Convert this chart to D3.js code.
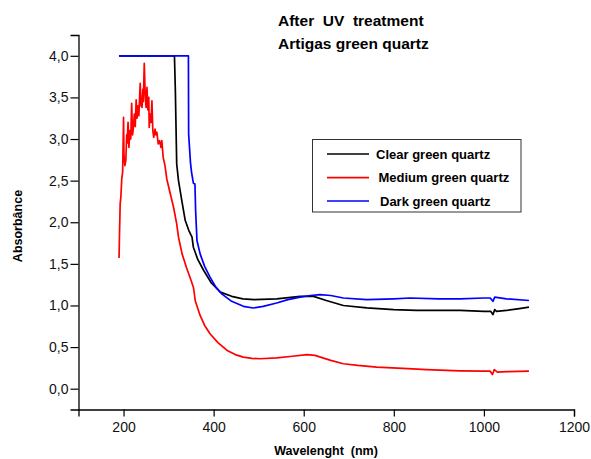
<!DOCTYPE html>
<html><head><meta charset="utf-8">
<script src="https://cdn.jsdelivr.net/npm/d3@7/dist/d3.min.js"></script>
<style>
body{margin:0;background:#fff;}
svg{display:block;font-family:"Liberation Sans",Arial,sans-serif;}
</style></head>
<body>
<svg id="chart" width="591" height="459"></svg>
<script>
// ---- data ----
const titleLines = ["After  UV  treatment", "Artigas green quartz"];
const xLabel = "Wavelenght  (nm)";
const yLabel = "Absorbânce";
const seriesNames = ["Clear green quartz", "Medium green quartz", "Dark green quartz"];
const seriesColors = ["#000000", "#ff0000", "#0000ff"];
const xTicks = [200, 400, 600, 800, 1000, 1200];
const xMinorTicks = [100, 300, 500, 700, 900, 1100];
const yTicks = [0, 0.5, 1, 1.5, 2, 2.5, 3, 3.5, 4];
const yMinorTicks = [-0.25, 0.25, 0.75, 1.25, 1.75, 2.25, 2.75, 3.25, 3.75, 4.25];

const clearWl  = [190, 250, 313, 315, 318, 322, 330, 337, 345, 352, 355, 365, 378, 395, 415, 440, 465, 490, 540, 592, 622, 650, 688, 740, 800, 850, 903, 947, 1000, 1015, 1020, 1024, 1028, 1050, 1075, 1100];
const clearAbs = [4.0, 4.0, 4.0, 3.59, 2.70, 2.50, 2.24, 2.02, 1.90, 1.82, 1.70, 1.55, 1.42, 1.27, 1.16, 1.11, 1.08, 1.07, 1.08, 1.11, 1.11, 1.06, 1.00, 0.97, 0.95, 0.94, 0.94, 0.94, 0.93, 0.93, 0.89, 0.95, 0.93, 0.94, 0.96, 0.98];

const mediumWl  = [190, 191, 192.5, 194, 196, 198, 200, 201, 203, 205, 207, 208, 210, 212, 214, 216, 218, 220, 222, 224, 226, 228, 230, 232, 234, 236, 237, 239, 241, 243, 244, 246, 248, 250, 252, 254, 256, 257, 259, 261, 263, 265, 267, 270, 272, 274, 277, 280, 283, 285, 288, 292, 296, 303, 311, 318, 322, 330, 340, 350, 355, 357, 359, 365, 370, 380, 392, 410, 430, 448, 466, 485, 503, 540, 575, 607, 625, 637, 660, 688, 720, 762, 820, 873, 947, 1000, 1014, 1019, 1023, 1030, 1050, 1100];
const mediumAbs = [1.57, 1.85, 2.22, 2.30, 2.52, 2.60, 3.26, 2.80, 2.68, 2.74, 3.05, 2.95, 3.20, 2.90, 3.10, 3.00, 3.43, 3.05, 3.14, 3.30, 3.15, 3.47, 3.25, 3.40, 3.28, 3.55, 3.67, 3.40, 3.38, 3.60, 3.45, 3.91, 3.55, 3.38, 3.62, 3.35, 3.50, 3.14, 3.30, 3.20, 3.46, 3.10, 3.02, 3.12, 3.05, 3.08, 2.94, 2.98, 2.90, 2.98, 2.78, 2.68, 2.52, 2.36, 2.18, 1.98, 1.82, 1.62, 1.45, 1.30, 1.22, 1.15, 1.06, 0.96, 0.88, 0.76, 0.66, 0.55, 0.46, 0.41, 0.38, 0.365, 0.36, 0.37, 0.39, 0.41, 0.40, 0.38, 0.34, 0.30, 0.28, 0.26, 0.245, 0.23, 0.215, 0.21, 0.21, 0.17, 0.23, 0.20, 0.205, 0.21];

const darkWl  = [190, 344, 344.5, 347, 348.5, 351, 355, 358.5, 360, 361, 363, 370, 380, 392, 405, 418, 440, 466, 488, 510, 540, 565, 592, 615, 636, 660, 688, 740, 800, 836, 900, 947, 1000, 1014, 1020, 1024, 1050, 1100];
const darkAbs = [4.0, 4.0, 3.06, 2.85, 2.72, 2.60, 2.47, 2.46, 2.14, 2.02, 1.78, 1.62, 1.47, 1.34, 1.22, 1.14, 1.05, 0.99, 0.97, 0.99, 1.03, 1.07, 1.10, 1.12, 1.13, 1.12, 1.09, 1.07, 1.08, 1.09, 1.08, 1.08, 1.09, 1.09, 1.05, 1.10, 1.08, 1.06];

// ---- chart ----
const svg = d3.select("#chart");
const x = d3.scaleLinear().domain([100, 1200]).range([78.5, 574]);
const y = d3.scaleLinear().domain([-0.25, 4.25]).range([409.5, 35]);
const fmt = d => d3.format(".1f")(d).replace(".", ",");

// axes
const gx = svg.append("g").attr("transform", `translate(0,${y(-0.25)})`);
gx.call(d3.axisBottom(x).tickValues(xMinorTicks).tickSize(3.5).tickFormat(""));
gx.call(d3.axisBottom(x).tickValues(xTicks).tickSize(7).tickPadding(6).tickFormat(d3.format("d")));
const gy = svg.append("g").attr("transform", `translate(${x(100)},0)`);
gy.call(d3.axisLeft(y).tickValues(yMinorTicks).tickSize(4.5).tickFormat(""));
gy.call(d3.axisLeft(y).tickValues(yTicks).tickSize(8).tickPadding(2).tickFormat(fmt));
svg.selectAll(".domain").attr("stroke", "#000").attr("stroke-width", 1.3);
svg.selectAll(".tick line").attr("stroke", "#000").attr("stroke-width", 1.2);
svg.selectAll(".tick text").attr("font-size", 14).attr("fill", "#111")
  .attr("font-family", "'Liberation Sans', Arial, sans-serif");

// lines
const line = d3.line().x(d => x(d[0])).y(d => y(d[1]));
const series = [
  {wl: clearWl, abs: clearAbs, color: seriesColors[0]},
  {wl: mediumWl, abs: mediumAbs, color: seriesColors[1]},
  {wl: darkWl, abs: darkAbs, color: seriesColors[2]}
];
series.forEach(s => {
  svg.append("path").datum(s.wl.map((w, i) => [w, s.abs[i]]))
    .attr("d", line).attr("fill", "none").attr("stroke", s.color)
    .attr("stroke-width", 1.7).attr("stroke-linejoin", "round");
});

// titles
svg.append("text").attr("x", 278).attr("y", 26).attr("font-size", 15.5).attr("font-weight", "bold")
  .style("white-space", "pre").text(titleLines[0]);
svg.append("text").attr("x", 278).attr("y", 49).attr("font-size", 15.5).attr("font-weight", "bold")
  .text(titleLines[1]);
svg.append("text").attr("x", 326).attr("y", 455).attr("text-anchor", "middle")
  .attr("font-size", 12.5).attr("font-weight", "bold").style("white-space", "pre").text(xLabel);
svg.append("text").attr("transform", "translate(22,226) rotate(-90)").attr("text-anchor", "middle")
  .attr("font-size", 12.5).attr("font-weight", "bold").text(yLabel);

// legend
svg.append("rect").attr("x", 312.5).attr("y", 139.5).attr("width", 208.5).attr("height", 72.5)
  .attr("fill", "#fff").attr("stroke", "#333").attr("stroke-width", 1);
const legY = [154, 177.7, 201];
const legTx = [376, 378.5, 380];
seriesNames.forEach((n, i) => {
  svg.append("line").attr("x1", 327).attr("x2", 369).attr("y1", legY[i]).attr("y2", legY[i])
    .attr("stroke", seriesColors[i]).attr("stroke-width", 1.7);
  svg.append("text").attr("x", legTx[i]).attr("y", legY[i] + 4.5).attr("font-size", 13)
    .attr("font-weight", "bold").text(n);
});
</script>
</body></html>
